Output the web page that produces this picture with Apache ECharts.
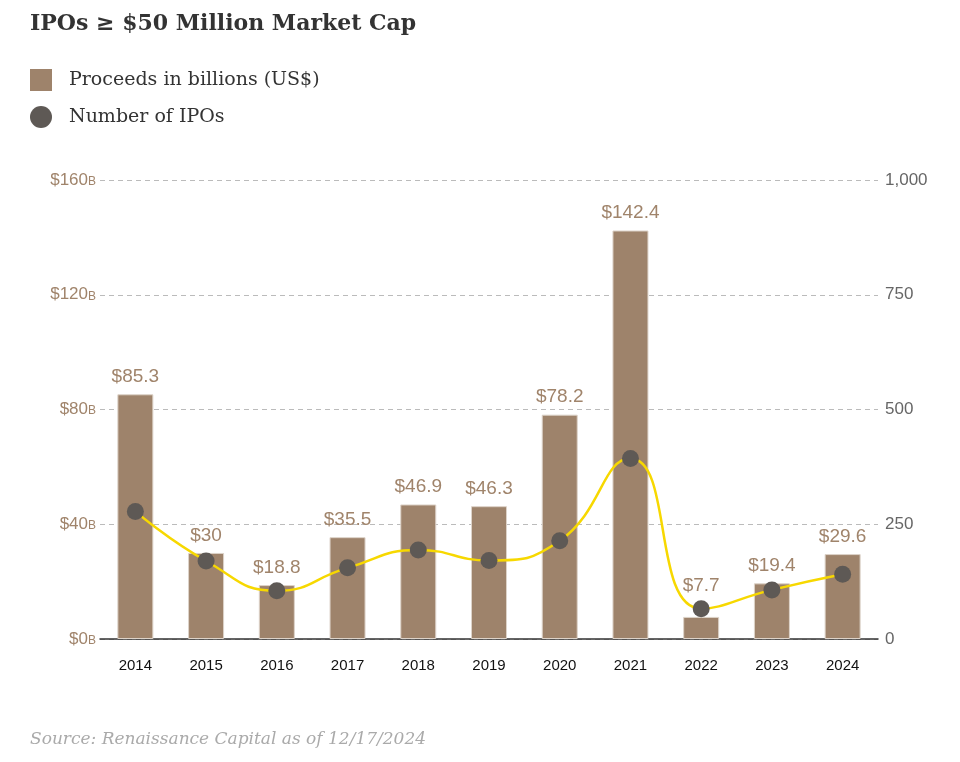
<!DOCTYPE html>
<html>
<head>
<meta charset="utf-8">
<script src="https://cdn.jsdelivr.net/npm/echarts@6/dist/echarts.min.js"></script>
<style>
  html, body { margin: 0; padding: 0; background: #fff; }
  #main { width: 960px; height: 762px; }
</style>
</head>
<body>
<div id="main"></div>
<script>
var years = ['2014', '2015', '2016', '2017', '2018', '2019', '2020', '2021', '2022', '2023', '2024'];
var proceeds = [85.3, 30, 18.8, 35.5, 46.9, 46.3, 78.2, 142.4, 7.7, 19.4, 29.6];
var ipoCounts = [278, 170, 105, 155, 194, 171, 214, 393, 66, 107, 141];

var myChart = echarts.init(document.getElementById('main'));

var tan = '#a0846b';
var serif = '"DejaVu Serif", "Liberation Serif", serif';
var sans = 'Arial, "Liberation Sans", sans-serif';

var option = {
  animation: false,
  title: {
    text: 'IPOs ≥ $50 Million Market Cap',
    left: 25,
    top: 8,
    textStyle: { fontFamily: serif, fontWeight: 'bold', fontSize: 22, color: '#333' }
  },
  legend: {
    orient: 'vertical',
    left: 25,
    top: 64,
    itemWidth: 22,
    itemHeight: 22,
    itemGap: 15,
    itemStyle: { borderWidth: 0 },
    textStyle: { fontFamily: serif, fontSize: 19, color: '#333', padding: [0, 0, 0, 12] },
    data: [
      { name: 'Proceeds in billions (US$)', icon: 'rect' },
      { name: 'Number of IPOs', icon: 'circle' }
    ]
  },
  graphic: [{
    type: 'text',
    left: 30,
    top: 731,
    style: {
      text: 'Source: Renaissance Capital as of 12/17/2024',
      fontFamily: serif,
      fontStyle: 'italic',
      fontSize: 17,
      fill: '#aaa'
    }
  }],
  grid: { left: 100, right: 82, top: 180, bottom: 123 },
  xAxis: {
    type: 'category',
    data: years,
    axisLine: { lineStyle: { color: '#333', width: 1.5 } },
    axisTick: { show: false },
    axisLabel: { margin: 19, fontFamily: sans, fontSize: 15, color: '#111' }
  },
  yAxis: [{
    type: 'value',
    min: 0,
    max: 160,
    interval: 40,
    axisLine: { show: false },
    axisTick: { show: false },
    splitLine: { lineStyle: { color: '#bbb', type: [5, 4] } },
    axisLabel: {
      margin: 4,
      formatter: function (v) { return '{a|$' + v + '}{b|B}'; },
      rich: {
        a: { fontFamily: sans, fontSize: 17, color: tan },
        b: { fontFamily: sans, fontSize: 12, color: tan, padding: [3, 0, 0, 0] }
      }
    }
  }, {
    type: 'value',
    min: 0,
    max: 1000,
    interval: 250,
    axisLine: { show: false },
    axisTick: { show: false },
    splitLine: { show: false },
    axisLabel: {
      margin: 7,
      fontFamily: sans,
      fontSize: 17,
      color: '#666',
      padding: [0, 0, 7, 0],
      formatter: function (v) { return v.toLocaleString('en-US'); }
    }
  }],
  series: [{
    name: 'Proceeds in billions (US$)',
    type: 'bar',
    data: proceeds,
    barWidth: 36,
    itemStyle: { color: '#9e836b', borderColor: '#ddd3c9', borderWidth: 1 },
    label: {
      show: true,
      position: 'top',
      distance: 8,
      formatter: '${c}',
      fontFamily: sans,
      fontSize: 19,
      color: tan
    },
    // lift a value label clear of the IPO dot when the dot sits right on it
    labelLayout: function (params) {
      var i = params.dataIndex;
      var dotY = myChart.convertToPixel({ yAxisIndex: 1 }, ipoCounts[i]);
      var lr = params.labelRect;
      var bottom = lr.y + lr.height;
      if (typeof dotY === 'number' && bottom > dotY - 9 && lr.y < dotY + 9) {
        return { dy: (dotY - 9) - bottom - 4 };
      }
      return {};
    }
  }, {
    name: 'Number of IPOs',
    type: 'line',
    yAxisIndex: 1,
    data: ipoCounts,
    smooth: true,
    symbol: 'circle',
    symbolSize: 17,
    lineStyle: { color: '#f7d800', width: 2.5 },
    itemStyle: { color: '#5e5955' },
    z: 5
  }]
};

myChart.setOption(option);
</script>
</body>
</html>
